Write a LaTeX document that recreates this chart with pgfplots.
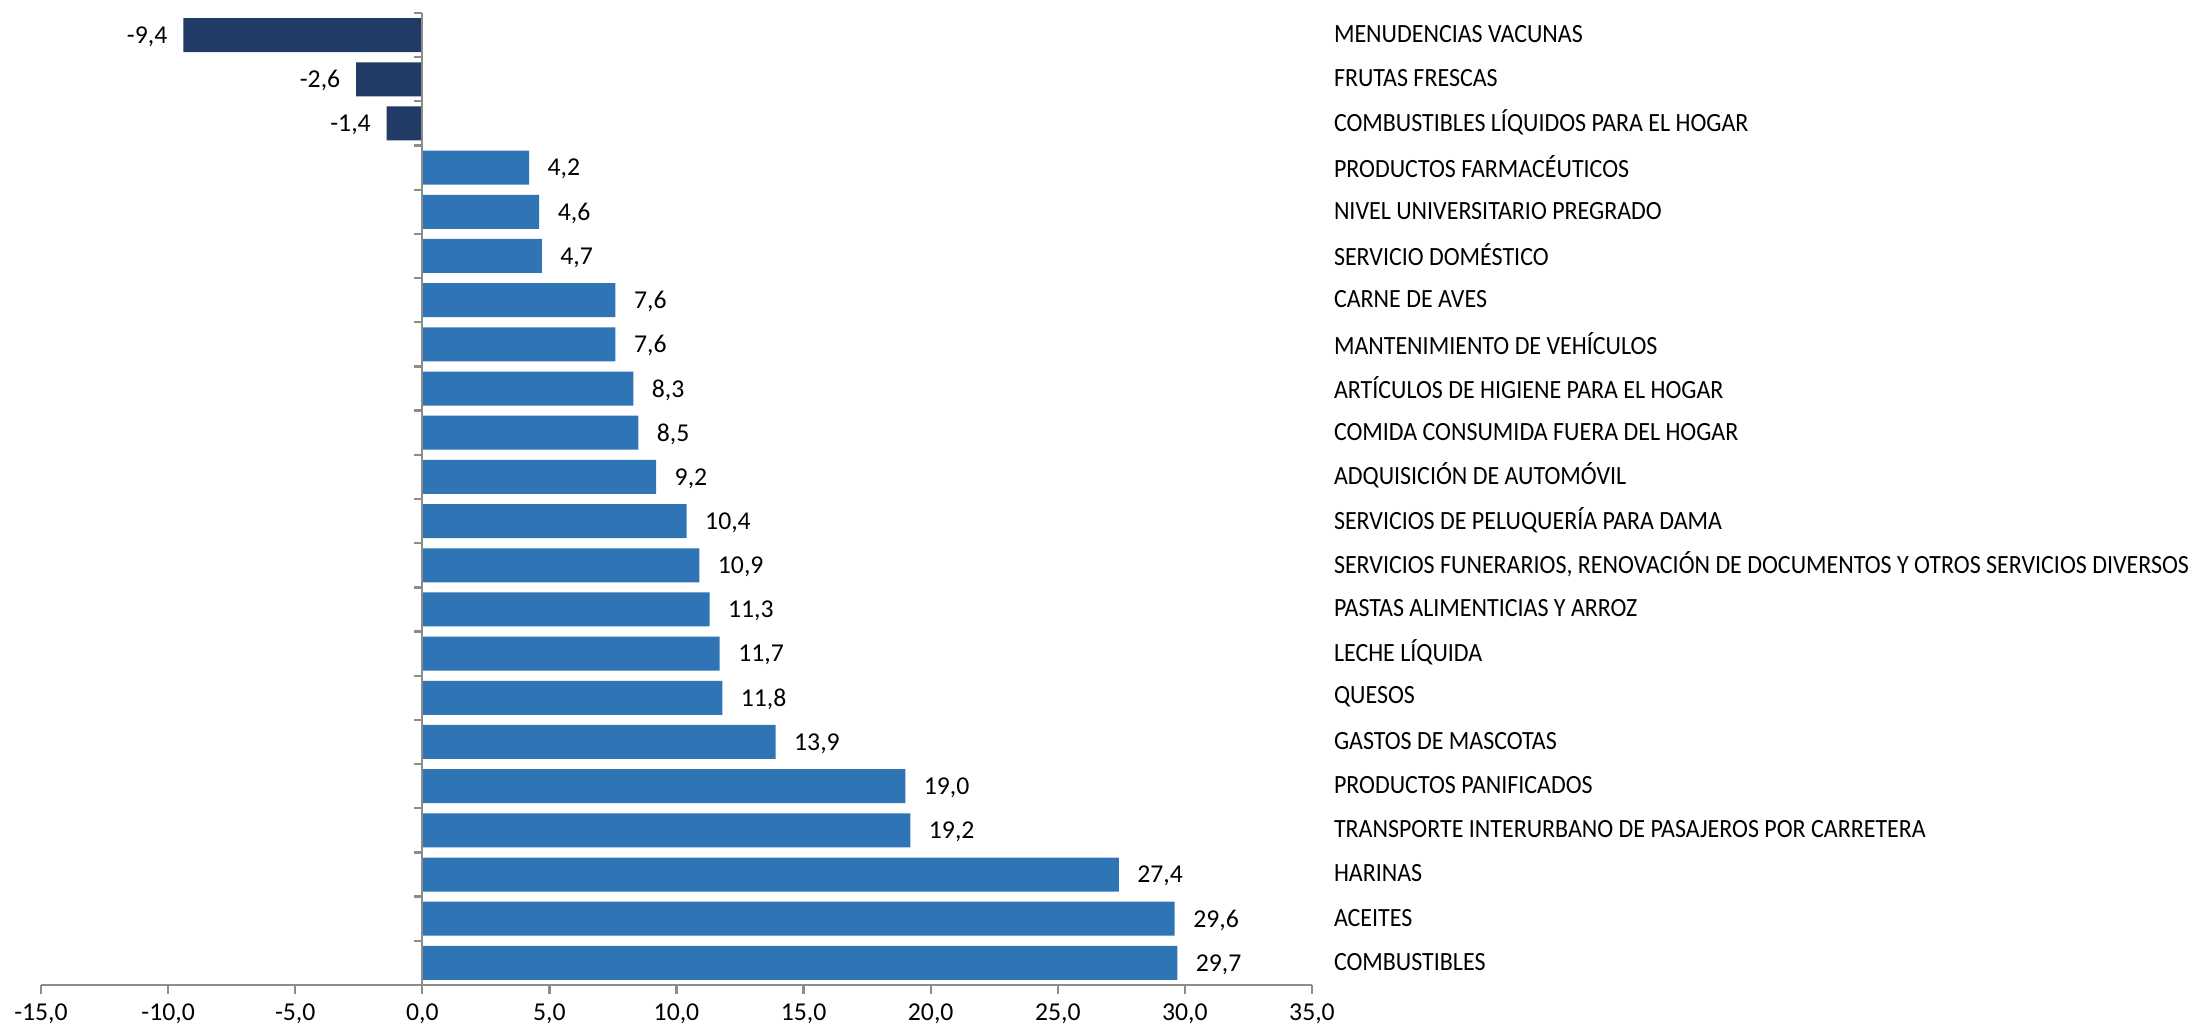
\documentclass[border=0pt]{standalone}
\usepackage{fontspec}
\setmainfont{Carlito}
\newfontfamily\catfont[FakeStretch=0.912]{Carlito}
\usepackage{pgfplots}
\pgfplotsset{compat=1.18}
\definecolor{navy}{HTML}{213A66}
\definecolor{barblue}{HTML}{2F75B5}
\definecolor{axgray}{HTML}{8C8C8C}
\begin{document}
\begin{tikzpicture}
\begin{axis}[
  scale only axis, width=444.85pt, height=340.2pt,
  xmin=-15, xmax=35, ymin=-0.5, ymax=21.5, y dir=reverse,
  axis x line=bottom, axis y line=right, axis line style={-},
  x axis line style={draw=axgray, line width=0.8pt},
  y axis line style={draw=none},
  xtick={-15,-10,...,35},
  x tick style={draw=axgray, line width=0.8pt},
  tick align=outside, major tick length=3pt,
  ytick={0,...,21}, y tick style={draw=none},
  yticklabels={MENUDENCIAS VACUNAS, FRUTAS FRESCAS, COMBUSTIBLES LÍQUIDOS PARA EL HOGAR, PRODUCTOS FARMACÉUTICOS, NIVEL UNIVERSITARIO PREGRADO, SERVICIO DOMÉSTICO, CARNE DE AVES, MANTENIMIENTO DE VEHÍCULOS, ARTÍCULOS DE HIGIENE PARA EL HOGAR, COMIDA CONSUMIDA FUERA DEL HOGAR, ADQUISICIÓN DE AUTOMÓVIL, SERVICIOS DE PELUQUERÍA PARA DAMA, {SERVICIOS FUNERARIOS, RENOVACIÓN DE DOCUMENTOS Y OTROS SERVICIOS DIVERSOS}, PASTAS ALIMENTICIAS Y ARROZ, LECHE LÍQUIDA, QUESOS, GASTOS DE MASCOTAS, PRODUCTOS PANIFICADOS, TRANSPORTE INTERURBANO DE PASAJEROS POR CARRETERA, HARINAS, ACEITES, COMBUSTIBLES},
  yticklabel style={font=\catfont\fontsize{9.2}{10}\selectfont, anchor=west, inner sep=0pt, xshift=4.5pt, yshift=0.4pt, text=black},
  xticklabel style={font=\fontsize{9}{10}\selectfont, text=black},
  xbar, bar width=11.9pt, bar shift=0pt,
  point meta=x,
  nodes near coords,
  every node near coord/.append style={font=\fontsize{9}{10}\selectfont, text=black, inner sep=0pt, yshift=-0.5pt},
  /pgf/number format/use comma,
  /pgf/number format/fixed,
  /pgf/number format/fixed zerofill,
  /pgf/number format/precision=1,
  /pgf/number format/assume math mode=true,
  clip=false,
]
\addplot[fill=navy, draw=none, nodes near coords style={anchor=east, xshift=-5.4pt}]
  coordinates {(-9.4,0) (-2.6,1) (-1.4,2)};
\addplot[fill=barblue, draw=none, nodes near coords style={anchor=west, xshift=6.3pt}]
  coordinates {(4.2,3) (4.6,4) (4.7,5) (7.6,6) (7.6,7) (8.3,8) (8.5,9) (9.2,10) (10.4,11) (10.9,12) (11.3,13) (11.7,14) (11.8,15) (13.9,16) (19.0,17) (19.2,18) (27.4,19) (29.6,20) (29.7,21)};
\draw[axgray, line width=0.8pt] (axis cs:0,-0.5) -- (axis cs:0,21.5);
\pgfplotsinvokeforeach{-0.5,0.5,...,20.5}{\draw[axgray, line width=0.8pt] (axis cs:0,#1) -- ++(-2.8pt,0pt);}
\end{axis}
\pgfresetboundingbox
\path ([xshift=-14.35pt,yshift=-15.4pt]current axis.south west) rectangle ([xshift=754.25pt,yshift=4.55pt]current axis.north west);
\end{tikzpicture}
\end{document}
